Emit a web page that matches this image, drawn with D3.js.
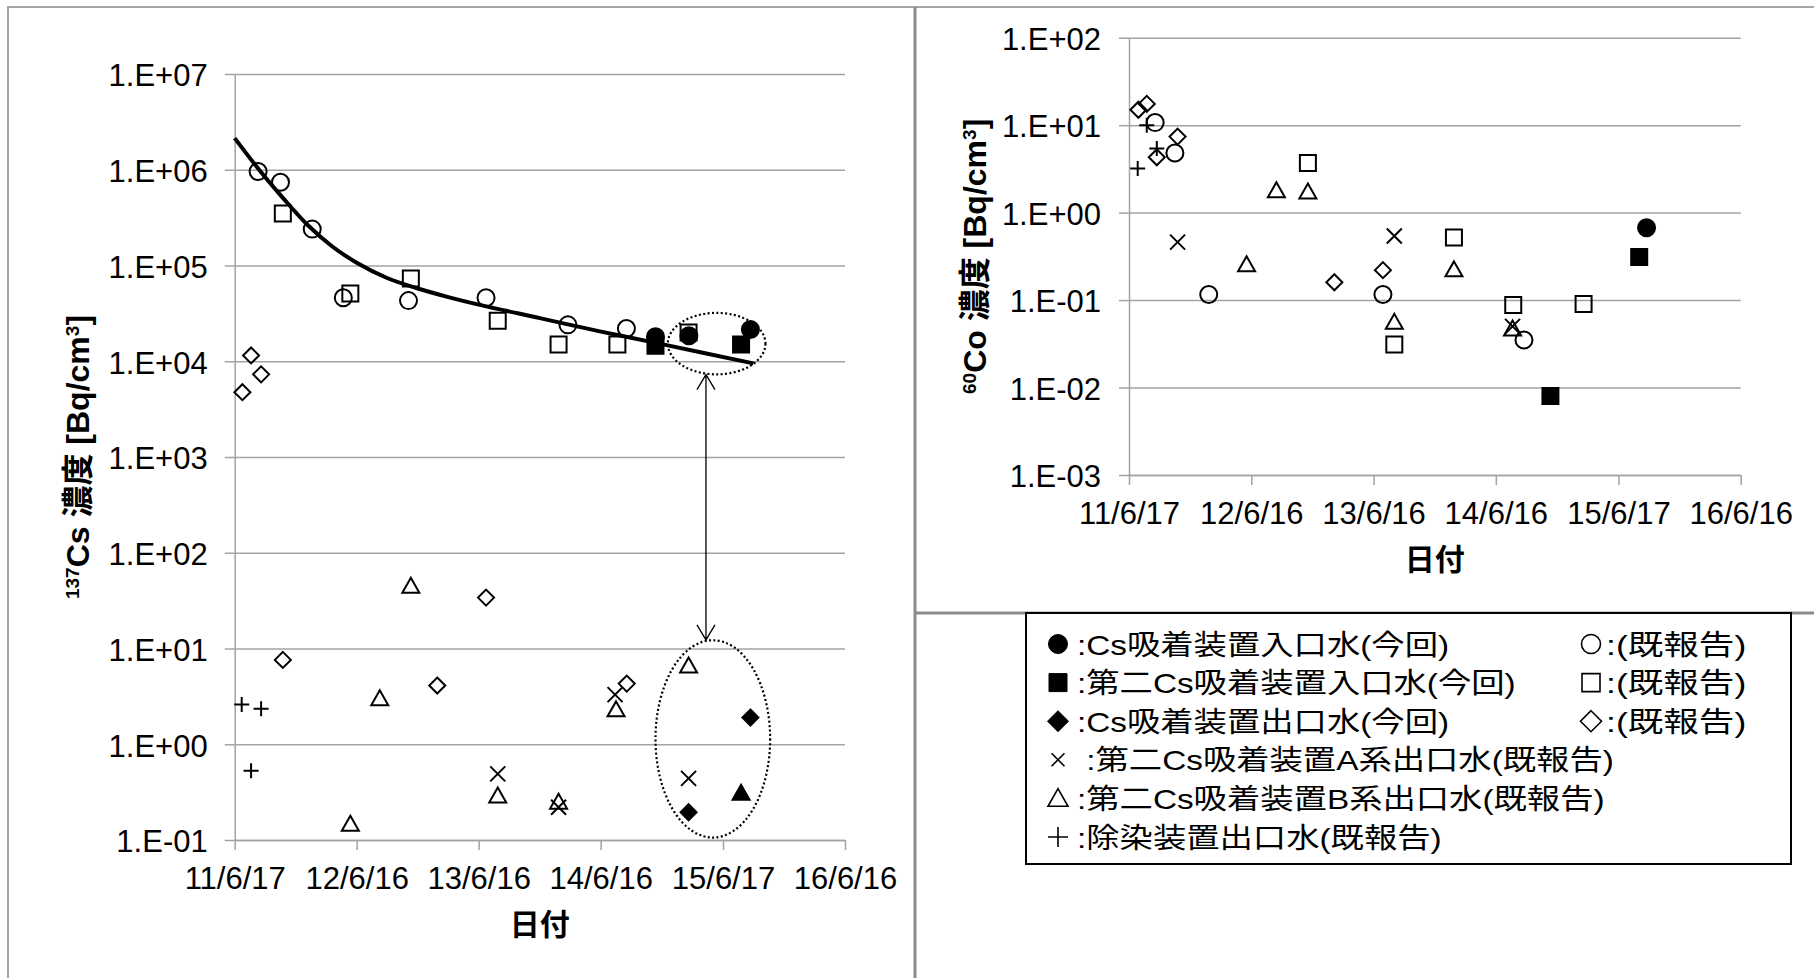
<!DOCTYPE html>
<html>
<head>
<meta charset="utf-8">
<script src="https://cdn.jsdelivr.net/npm/d3@7"></script>
<style>
  body { margin: 0; background: #fff; }
  svg { display: block; }
</style>
</head>
<body>
<script>
const W = 1814, H = 978;
const FONT = "'Liberation Sans', Arial, 'Noto Sans CJK JP', sans-serif";
const parse = d3.timeParse("%Y-%m-%d");

// ---- axis ticks ----
const xTickDates = ["2011-06-17", "2012-06-16", "2013-06-16", "2014-06-16", "2015-06-17", "2016-06-16"];
const xTickLabels = ["11/6/17", "12/6/16", "13/6/16", "14/6/16", "15/6/17", "16/6/16"];
const csTicks = [1e-1, 1e0, 1e1, 1e2, 1e3, 1e4, 1e5, 1e6, 1e7];
const csTickLabels = ["1.E-01", "1.E+00", "1.E+01", "1.E+02", "1.E+03", "1.E+04", "1.E+05", "1.E+06", "1.E+07"];
const coTicks = [1e-3, 1e-2, 1e-1, 1e0, 1e1, 1e2];
const coTickLabels = ["1.E-03", "1.E-02", "1.E-01", "1.E+00", "1.E+01", "1.E+02"];

// ---- 137Cs [Bq/cm3] ----
const csInletNow = [["2014-11-27", 1.8e4], ["2015-03-07", 1.85e4], ["2015-09-07", 2.15e4]];
const csInletPrev = [["2011-08-26", 9.6e5], ["2011-11-01", 7.4e5], ["2012-02-04", 2.4e5], ["2012-05-07", 4.6e4],
  ["2012-11-18", 4.3e4], ["2013-07-08", 4.6e4], ["2014-03-10", 2.4e4], ["2014-09-01", 2.2e4]];
const cs2InletNow = [["2014-11-27", 1.45e4], ["2015-08-10", 1.5e4]];
const cs2InletPrev = [["2011-11-08", 3.5e5], ["2012-05-28", 5.1e4], ["2012-11-25", 7.3e4], ["2013-08-12", 2.65e4],
  ["2014-02-10", 1.5e4], ["2014-08-05", 1.5e4], ["2015-03-06", 2.0e4]];
const csOutletNow = [["2015-03-06", 0.195], ["2015-09-07", 1.9]];
const csOutletPrev = [["2011-07-10", 4.75e3], ["2011-08-05", 1.15e4], ["2011-09-04", 7.3e3], ["2011-11-08", 7.6],
  ["2013-02-12", 4.1], ["2013-07-08", 34], ["2014-09-02", 4.3]];
const cs2AOutlet = [["2013-08-12", 0.49], ["2014-02-10", 0.22], ["2014-07-29", 3.3], ["2015-03-06", 0.44]];
const cs2BOutlet = [["2012-05-28", 0.147], ["2012-08-24", 3.0], ["2012-11-25", 45], ["2013-08-12", 0.29],
  ["2014-02-10", 0.25], ["2014-08-01", 2.3], ["2015-03-06", 6.6]];
const cs2BOutletNow = [["2015-08-10", 0.31]];
const deconOutlet = [["2011-07-08", 2.6], ["2011-08-05", 0.53], ["2011-09-04", 2.35]];
// trend curve
const csTrend = [["2011-06-17", 2.14e6], ["2011-08-29", 1.0e6], ["2011-11-10", 5.0e5], ["2012-01-22", 2.63e5],
  ["2012-04-04", 1.58e5], ["2012-06-16", 1.07e5], ["2012-09-15", 7.4e4], ["2012-12-16", 5.75e4],
  ["2013-03-17", 4.68e4], ["2013-06-16", 3.9e4], ["2013-12-16", 2.82e4], ["2014-06-17", 2.04e4],
  ["2014-12-16", 1.51e4], ["2015-09-16", 9.5e3]];

// ---- 60Co [Bq/cm3] ----
const coInletNow = [["2015-09-09", 0.67]];
const coInletPrev = [["2011-09-03", 10.7], ["2011-11-01", 4.8], ["2012-02-10", 0.116], ["2013-07-14", 0.116], ["2014-09-08", 0.035]];
const co2InletNow = [["2014-11-26", 0.008], ["2015-08-18", 0.31]];
const co2InletPrev = [["2012-12-02", 3.7], ["2013-08-17", 0.031], ["2014-02-11", 0.52], ["2014-08-07", 0.088], ["2015-03-05", 0.09]];
const coOutletPrev = [["2011-07-15", 15], ["2011-08-09", 17.5], ["2011-09-08", 4.3], ["2011-11-09", 7.4],
  ["2013-02-19", 0.16], ["2013-07-14", 0.22]];
const co2AOutlet = [["2011-11-09", 0.46], ["2013-08-17", 0.54], ["2014-08-05", 0.05]];
const co2BOutlet = [["2012-06-02", 0.255], ["2012-08-30", 1.79], ["2012-12-02", 1.73], ["2013-08-17", 0.056],
  ["2014-02-11", 0.223], ["2014-08-05", 0.047]];
const coDeconOutlet = [["2011-07-13", 3.2], ["2011-08-09", 10.0], ["2011-09-08", 5.4]];

// ---- legend ----
const legendShapes = ["circle", "square", "diamond", "x", "triangle", "plus"];
const legendFilled = [true, true, true, false, false, false];
const legendTexts = [":Cs吸着装置入口水(今回)", ":第二Cs吸着装置入口水(今回)", ":Cs吸着装置出口水(今回)",
  " :第二Cs吸着装置A系出口水(既報告)", ":第二Cs吸着装置B系出口水(既報告)", ":除染装置出口水(既報告)"];
const legendPrevShapes = ["circle", "square", "diamond"];
const legendPrevText = ":(既報告)";

// annotation (left chart): dotted rings around the latest samples and the arrow between them
const focusRings = [
  { from: "2015-01-03", to: "2015-10-22", hi: 3.2e4, lo: 7.3e3 },
  { from: "2014-11-27", to: "2015-11-05", hi: 12.2, lo: 0.106 }
];
const focusArrowDate = "2015-04-27";

// marker outline paths, s = full width in px
function markerPath(shape, s) {
  const h = s / 2;
  switch (shape) {
    case "circle": return `M${h},0A${h},${h} 0 1,1 ${-h},0A${h},${h} 0 1,1 ${h},0Z`;
    case "square": return `M${-h},${-h}H${h}V${h}H${-h}Z`;
    case "diamond": return `M0,${-h}L${h},0L0,${h}L${-h},0Z`;
    case "triangle": { const t = s * 0.88; return `M0,${-t * 0.55}L${h},${t * 0.45}L${-h},${t * 0.45}Z`; }
    case "x": return `M${-h},${-h}L${h},${h}M${-h},${h}L${h},${-h}`;
    case "plus": return `M${-h},0H${h}M0,${-h}V${h}`;
  }
}
const markerSize = { circle: 17, square: 16, diamond: 16, triangle: 17, x: 15, plus: 15 };

const svg = d3.select("body").append("svg").attr("width", W).attr("height", H);
svg.append("rect").attr("width", W).attr("height", H).attr("fill", "#fff");

// panel frames
svg.append("path").attr("d", "M8,978V7H1814").attr("fill", "none")
  .attr("stroke", "#a6a6a6").attr("stroke-width", 2);
svg.append("path").attr("d", "M915,7V978M915,613H1814").attr("fill", "none")
  .attr("stroke", "#8c8c8c").attr("stroke-width", 3);

const gridColor = "#a3a3a3";

function drawChart(cfg) {
  const x = d3.scaleTime()
    .domain([parse(xTickDates[0]), parse(xTickDates[xTickDates.length - 1])])
    .range([cfg.left, cfg.right]);
  const y = d3.scaleLog()
    .domain([cfg.ticks[0], cfg.ticks[cfg.ticks.length - 1]])
    .range([cfg.bottom, cfg.top]);
  const g = svg.append("g");

  // horizontal gridlines
  g.append("g").attr("transform", `translate(${cfg.left},0)`)
    .call(d3.axisLeft(y).tickValues(cfg.ticks).tickFormat("").tickSize(-(cfg.right - cfg.left)).tickSizeOuter(0))
    .call(s => s.select(".domain").remove())
    .call(s => s.selectAll("line").attr("stroke", gridColor).attr("stroke-width", 1.5));

  // y axis
  g.append("g").attr("transform", `translate(${cfg.left},0)`)
    .call(d3.axisLeft(y).tickValues(cfg.ticks).tickFormat((d, i) => cfg.tickLabels[i])
      .tickSize(10).tickSizeOuter(0).tickPadding(cfg.yPad))
    .call(s => s.attr("font-family", FONT).attr("font-size", 31).attr("color", gridColor))
    .call(s => s.selectAll("path,line").attr("stroke-width", 1.5))
    .call(s => s.selectAll("text").attr("fill", "#000").attr("dy", "0.38em"));

  // x axis
  g.append("g").attr("transform", `translate(0,${cfg.bottom})`)
    .call(d3.axisBottom(x).tickValues(xTickDates.map(parse)).tickFormat((d, i) => xTickLabels[i])
      .tickSize(10).tickSizeOuter(0).tickPadding(17))
    .call(s => s.attr("font-family", FONT).attr("font-size", 31).attr("color", gridColor))
    .call(s => s.selectAll("path,line").attr("stroke-width", 1.5))
    .call(s => s.selectAll("text").attr("fill", "#000"));

  // x title
  g.append("text")
    .attr("x", (cfg.left + cfg.right) / 2).attr("y", cfg.bottom + 95)
    .attr("text-anchor", "middle")
    .attr("font-family", FONT).attr("font-size", 30).attr("font-weight", "bold")
    .text("日付");

  // y title with superscripts
  const yt = g.append("text")
    .attr("transform", `translate(${cfg.titleX},${(cfg.top + cfg.bottom) / 2}) rotate(-90)`)
    .attr("text-anchor", "middle")
    .attr("font-family", FONT).attr("font-size", 32).attr("font-weight", "bold");
  yt.append("tspan").attr("font-size", 19).attr("baseline-shift", "55%").text(cfg.isotope[0]);
  yt.append("tspan").text(cfg.isotope[1] + " 濃度 [Bq/cm");
  yt.append("tspan").attr("font-size", 19).attr("baseline-shift", "55%").text("3");
  yt.append("tspan").text("]");

  // markers
  cfg.series.forEach(s => {
    g.append("g").selectAll("path").data(s.data).join("path")
      .attr("transform", d => `translate(${x(parse(d[0]))},${y(d[1])})`)
      .attr("d", markerPath(s.shape, markerSize[s.shape]))
      .attr("fill", s.filled ? "#000" : "none")
      .attr("stroke", "#000")
      .attr("stroke-width", 2);
  });

  return { x, y, g };
}

// ---- left chart: 137Cs ----
const left = drawChart({
  left: 234.7, right: 845, top: 74, bottom: 840, yPad: 17, titleX: 89,
  ticks: csTicks, tickLabels: csTickLabels, isotope: ["137", "Cs"],
  series: [
    { data: csInletPrev, shape: "circle", filled: false },
    { data: cs2InletPrev, shape: "square", filled: false },
    { data: csOutletPrev, shape: "diamond", filled: false },
    { data: cs2AOutlet, shape: "x", filled: false },
    { data: cs2BOutlet, shape: "triangle", filled: false },
    { data: deconOutlet, shape: "plus", filled: false },
    { data: cs2InletNow, shape: "square", filled: true },
    { data: csInletNow, shape: "circle", filled: true },
    { data: csOutletNow, shape: "diamond", filled: true },
    { data: cs2BOutletNow, shape: "triangle", filled: true }
  ]
});

// trend curve
left.g.append("path")
  .datum(csTrend)
  .attr("d", d3.line().x(d => left.x(parse(d[0]))).y(d => left.y(d[1])).curve(d3.curveCatmullRom))
  .attr("fill", "none").attr("stroke", "#000").attr("stroke-width", 4);

// dotted rings + double arrow
const rings = focusRings.map(r => {
  const x0 = left.x(parse(r.from)), x1 = left.x(parse(r.to));
  const y0 = left.y(r.hi), y1 = left.y(r.lo);
  return { cx: (x0 + x1) / 2, cy: (y0 + y1) / 2, rx: (x1 - x0) / 2, ry: (y1 - y0) / 2 };
});
left.g.selectAll("ellipse.ring").data(rings).join("ellipse")
  .attr("cx", d => d.cx).attr("cy", d => d.cy).attr("rx", d => d.rx).attr("ry", d => d.ry)
  .attr("fill", "none").attr("stroke", "#000").attr("stroke-width", 2.2).attr("stroke-dasharray", "2 2.4");

const ax = left.x(parse(focusArrowDate));
const edgeY = (r, sign) => r.cy + sign * r.ry * Math.sqrt(1 - Math.pow((ax - r.cx) / r.rx, 2));
const tipTop = edgeY(rings[0], 1) + 1, tipBot = edgeY(rings[1], -1) - 1;
left.g.append("path")
  .attr("d", `M${ax},${tipTop}V${tipBot}` +
    `M${ax - 9},${tipTop + 15}L${ax},${tipTop}L${ax + 9},${tipTop + 15}` +
    `M${ax - 9},${tipBot - 15}L${ax},${tipBot}L${ax + 9},${tipBot - 15}`)
  .attr("fill", "none").attr("stroke", "#000").attr("stroke-width", 1.3);

// ---- right chart: 60Co ----
drawChart({
  left: 1129, right: 1740.7, top: 37.7, bottom: 475, yPad: 18, titleX: 986,
  ticks: coTicks, tickLabels: coTickLabels, isotope: ["60", "Co"],
  series: [
    { data: coInletPrev, shape: "circle", filled: false },
    { data: co2InletPrev, shape: "square", filled: false },
    { data: coOutletPrev, shape: "diamond", filled: false },
    { data: co2AOutlet, shape: "x", filled: false },
    { data: co2BOutlet, shape: "triangle", filled: false },
    { data: coDeconOutlet, shape: "plus", filled: false },
    { data: co2InletNow, shape: "square", filled: true },
    { data: coInletNow, shape: "circle", filled: true }
  ]
});

// ---- legend box ----
const lg = svg.append("g");
lg.append("rect").attr("x", 1026).attr("y", 613).attr("width", 765).attr("height", 251)
  .attr("fill", "#fff").attr("stroke", "#000").attr("stroke-width", 2);

const rowY = i => 644 + i * 38.6;
const legendSize = { circle: 19, square: 18, diamond: 21, x: 13, triangle: 20, plus: 20 };
const stretch = 1.19, stretchPrev = 1.27;

legendTexts.forEach((t, i) => {
  lg.append("path")
    .attr("transform", `translate(1058,${rowY(i)})`)
    .attr("d", markerPath(legendShapes[i], legendSize[legendShapes[i]]))
    .attr("fill", legendFilled[i] ? "#000" : "none")
    .attr("stroke", "#000").attr("stroke-width", legendFilled[i] ? 1 : 1.6);
  const tx = lg.append("text")
    .attr("x", 1077).attr("y", rowY(i) + 10.5)
    .attr("font-family", FONT).attr("font-size", 28)
    .style("white-space", "pre")
    .text(t);
  tx.attr("textLength", tx.node().getComputedTextLength() * stretch).attr("lengthAdjust", "spacingAndGlyphs");
});

legendPrevShapes.forEach((sh, i) => {
  lg.append("path")
    .attr("transform", `translate(1591,${rowY(i)})`)
    .attr("d", markerPath(sh, legendSize[sh]))
    .attr("fill", "none").attr("stroke", "#000").attr("stroke-width", 1.6);
  const tx = lg.append("text")
    .attr("x", 1606).attr("y", rowY(i) + 10.5)
    .attr("font-family", FONT).attr("font-size", 28)
    .text(legendPrevText);
  tx.attr("textLength", tx.node().getComputedTextLength() * stretchPrev).attr("lengthAdjust", "spacingAndGlyphs");
});
</script>
</body>
</html>
